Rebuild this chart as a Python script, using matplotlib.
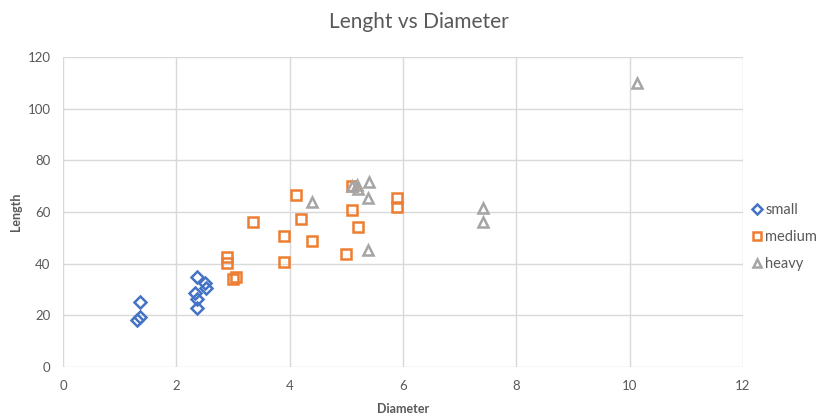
import matplotlib.pyplot as plt

# diameter / length measurements, grouped by weight class
small_diameter = [1.3, 1.36, 1.36, 2.36, 2.5, 2.53, 2.33, 2.37, 2.36]
small_length = [18.3, 19.3, 25.0, 35.0, 32.6, 30.5, 28.5, 26.2, 22.9]

medium_diameter = [2.89, 2.89, 3.0, 3.05, 3.35, 3.9, 3.9, 4.11, 4.2, 4.39,
                   4.99, 5.1, 5.1, 5.2, 5.89, 5.89]
medium_length = [42.7, 40.3, 34.0, 35.0, 56.2, 50.8, 40.6, 66.6, 57.3, 48.8,
                 43.7, 70.2, 60.8, 54.2, 65.5, 62.0]

heavy_diameter = [4.4, 5.1, 5.19, 5.21, 5.4, 5.38, 5.38, 7.41, 7.41, 10.13]
heavy_length = [63.9, 70.1, 70.5, 68.9, 71.6, 65.4, 45.3, 61.6, 56.1, 110.0]

x_ticks = [0, 2, 4, 6, 8, 10, 12]
y_ticks = [0, 20, 40, 60, 80, 100, 120]

plt.rcParams['font.family'] = ['Lato', 'DejaVu Sans']
text_color = '#595959'
grid_color = '#d9d9d9'

fig = plt.figure(figsize=(8.38, 4.18), dpi=100)
ax = fig.add_axes([0.0752, 0.122, 0.8114, 0.7416])

series = [
    ('small', small_diameter, small_length, 'D', '#4472C4', 6.5),
    ('medium', medium_diameter, medium_length, 's', '#ED7D31', 7.5),
    ('heavy', heavy_diameter, heavy_length, '^', '#A5A5A5', 7.5),
]
for name, xs, ys, marker, color, size in series:
    ax.plot(xs, ys, linestyle='none', marker=marker, markersize=size,
            markerfacecolor='none', markeredgecolor=color,
            markeredgewidth=1.8, label=name, zorder=3)

ax.set_xlim(0, 12)
ax.set_ylim(0, 120)
ax.set_xticks(x_ticks)
ax.set_yticks(y_ticks)
ax.grid(True, color=grid_color, linewidth=1)
ax.set_axisbelow(True)
for side in ['top', 'right', 'left', 'bottom']:
    ax.spines[side].set_visible(False)
ax.tick_params(length=0, labelsize=9.5, colors=text_color, pad=9)

ax.set_xlabel('Diameter', fontsize=9, fontweight='bold', color=text_color,
              labelpad=8)
ax.set_ylabel('Length', fontsize=9, fontweight='bold', color=text_color,
              labelpad=4)
fig.text(0.5, 0.948, 'Lenght vs Diameter', ha='center', va='center',
         fontsize=15, color=text_color)

leg = ax.legend(loc='center left', bbox_to_anchor=(0.988, 0.42), frameon=False,
                fontsize=10.5, handletextpad=0.0, handlelength=1.2,
                labelspacing=0.9, markerscale=0.75, labelcolor=text_color)

fig.savefig('out.png', dpi=100)
